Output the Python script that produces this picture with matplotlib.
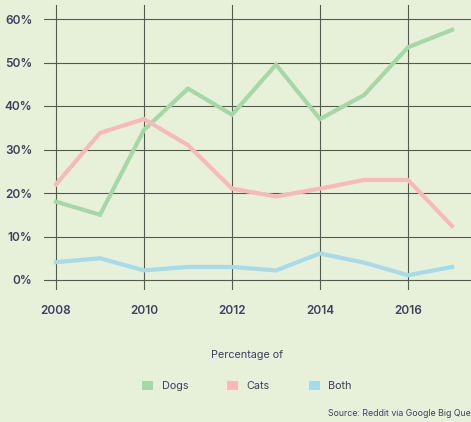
import matplotlib
matplotlib.use("Agg")
import matplotlib.pyplot as plt
from matplotlib.patches import Patch
from matplotlib.ticker import FixedLocator, FuncFormatter

years = [2008, 2009, 2010, 2011, 2012, 2013, 2014, 2015, 2016, 2017]
dogs = [18, 15, 34.5, 44, 38, 49.5, 37, 42.5, 53.5, 57.5]
cats = [22, 33.8, 37, 31, 21, 19.2, 21, 23, 23, 12.4]
both = [4.1, 5, 2.2, 3, 3, 2.2, 6.1, 4, 1.1, 3]
series_names = ["Dogs", "Cats", "Both"]
x_ticks = [2008, 2010, 2012, 2014, 2016]
y_ticks = [0, 10, 20, 30, 40, 50, 60]

bg = "#e7f1da"
colors = ["#a6d7a8", "#f8b9b8", "#a7dbe9"]
text_color = "#3f3f5e"
grid_color = "#555a4c"

plt.rcParams["font.family"] = ["Inter", "DejaVu Sans"]

W, H = 471, 422
fig = plt.figure(figsize=(W / 100, H / 100), dpi=100, facecolor=bg)
ax = fig.add_axes([44 / W, (H - 290) / H, (480 - 44) / W, (290 - 5) / H])
ax.set_facecolor(bg)

for vals, c in zip([dogs, cats, both], colors):
    ax.plot(years, vals, color=c, lw=3.0, solid_joinstyle="miter", zorder=3)

px_per_year = 44.0
ax.set_xlim(2008 - 12 / px_per_year, 2008 + (480 - 56) / px_per_year)
px_per_pct = 4.35
ax.set_ylim(-10 / px_per_pct, 60 + 14 / px_per_pct)

ax.xaxis.set_major_locator(FixedLocator(x_ticks))
ax.yaxis.set_major_locator(FixedLocator(y_ticks))
ax.yaxis.set_major_formatter(FuncFormatter(lambda v, p: f"{int(v)}%"))
ax.grid(True, color=grid_color, lw=0.8, zorder=1)
for s in ax.spines.values():
    s.set_visible(False)
ax.tick_params(length=0, labelsize=8.5, labelcolor=text_color)
ax.tick_params(axis="y", pad=8.5)
ax.tick_params(axis="x", pad=11)
for lab in ax.get_xticklabels() + ax.get_yticklabels():
    lab.set_fontweight("semibold")

fig.text(247 / W, 1 - 355 / H, "Percentage of", ha="center", va="center",
         fontsize=7.8, color=text_color)

handles = [Patch(facecolor=c, edgecolor="none") for c in colors]
leg = fig.legend(handles, series_names, loc="center", bbox_to_anchor=(247 / W, 1 - 386 / H),
                 ncol=3, frameon=False, fontsize=7.8, handlelength=1.0, handleheight=1.0,
                 handletextpad=0.8, columnspacing=3.6, labelcolor=text_color)

fig.text(328 / W, 1 - 414 / H, "Source: Reddit via Google Big Query", ha="left", va="center",
         fontsize=6.3, color=text_color)

fig.savefig("out.png", dpi=100, facecolor=bg)
